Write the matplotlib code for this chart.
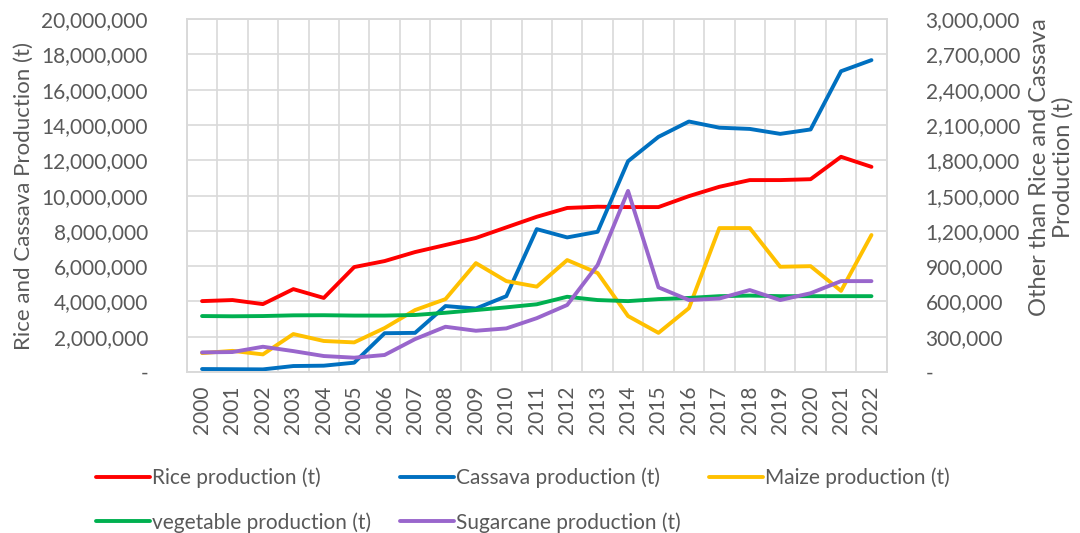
import matplotlib
matplotlib.use("Agg")
import matplotlib.pyplot as plt
from matplotlib.ticker import FuncFormatter, MultipleLocator

plt.rcParams["font.family"] = ["Lato", "DejaVu Sans"]

years = [str(y) for y in range(2000, 2023)]

# left axis (t)
rice = [4020000, 4080000, 3850000, 4700000, 4200000, 5950000, 6290000, 6800000,
        7200000, 7600000, 8200000, 8800000, 9300000, 9370000, 9350000, 9350000,
        9970000, 10500000, 10880000, 10880000, 10930000, 12200000, 11630000]
cassava = [170000, 160000, 150000, 340000, 360000, 530000, 2200000, 2220000,
           3740000, 3600000, 4300000, 8100000, 7630000, 7950000, 11950000, 13330000,
           14200000, 13850000, 13780000, 13500000, 13750000, 17050000, 17680000]

# right axis (t)
maize = [161000, 180000, 150000, 323000, 264000, 252000, 374000, 527000,
         620000, 926000, 773000, 726000, 952000, 842000, 476000, 333000,
         543000, 1224000, 1224000, 895000, 900000, 690000, 1165000]
vegetable = [476000, 474000, 476000, 482000, 483000, 480000, 480000, 485000,
             504000, 527000, 550000, 576000, 640000, 612000, 603000, 620000,
             630000, 645000, 650000, 645000, 645000, 645000, 645000]
sugarcane = [167000, 170000, 215000, 178000, 136000, 122000, 145000, 280000,
             385000, 351000, 371000, 458000, 570000, 910000, 1540000, 720000,
             612000, 625000, 697000, 612000, 670000, 773000, 773000]

grid_c = "#D9D9D9"
text_c = "#595959"
lw = 2.8
fs = 15

fig = plt.figure(figsize=(10.8, 5.33), dpi=100)
ax = fig.add_axes([0.173, 0.302, 0.648, 0.662])
ax2 = ax.twinx()

x = range(len(years))
l1, = ax.plot(x, rice, color="#FF0000", lw=lw, label="Rice production (t)", solid_capstyle="round")
l2, = ax.plot(x, cassava, color="#0070C0", lw=lw, label="Cassava production (t)", solid_capstyle="round")
l3, = ax2.plot(x, maize, color="#FFC000", lw=lw, label="Maize production (t)", solid_capstyle="round")
l4, = ax2.plot(x, vegetable, color="#00B050", lw=lw, label="vegetable production (t)", solid_capstyle="round")
l5, = ax2.plot(x, sugarcane, color="#9966CC", lw=lw, label="Sugarcane production (t)", solid_capstyle="round")

ax.set_xlim(-0.5, len(years) - 0.5)
ax.set_ylim(0, 20000000)
ax2.set_ylim(0, 3000000)
ax.yaxis.set_major_locator(MultipleLocator(2000000))
ax2.yaxis.set_major_locator(MultipleLocator(300000))

fmt = FuncFormatter(lambda v, p: f"{v:,.0f}" if v else "-")
ax.yaxis.set_major_formatter(fmt)
ax2.yaxis.set_major_formatter(fmt)

ax.set_xticks(list(x))
ax.set_xticklabels(years, rotation=90)
ax.set_xticks([i - 0.5 for i in range(len(years) + 1)], minor=True)

ax.grid(False)
ax.grid(True, which="minor", axis="x", color=grid_c, lw=1.2)
ax.grid(True, which="major", axis="y", color=grid_c, lw=1.2)
ax.set_axisbelow(True)

for a in (ax, ax2):
    for s in a.spines.values():
        s.set_color(grid_c)
        s.set_linewidth(1.2)
    a.tick_params(which="both", length=0, labelsize=fs, labelcolor=text_c)
ax.tick_params(axis="y", pad=28)
ax2.tick_params(axis="y", pad=28)
ax.tick_params(axis="x", pad=10)

ax.set_ylabel("Rice and Cassava Production (t)", fontsize=16, color=text_c)
ax.yaxis.set_label_coords(-0.219, 0.5)
ax2.set_ylabel("Other than Rice and Cassava\nProduction (t)", fontsize=17,
               color=text_c, rotation=90, va="center", ha="center",
               multialignment="center", linespacing=1.1)
ax2.yaxis.set_label_coords(1.235, 0.58)

handles = [l1, l4, l2, l5, l3]
fig.legend(handles=handles, labels=[h.get_label() for h in handles],
           loc="upper left", bbox_to_anchor=(0.089, 0.1225), ncol=3, frameon=False,
           fontsize=fs, labelcolor=text_c, handlelength=2.6, handletextpad=0.1,
           columnspacing=1.35, labelspacing=1.14, borderaxespad=0, borderpad=0)

fig.savefig("out.png", dpi=100)
